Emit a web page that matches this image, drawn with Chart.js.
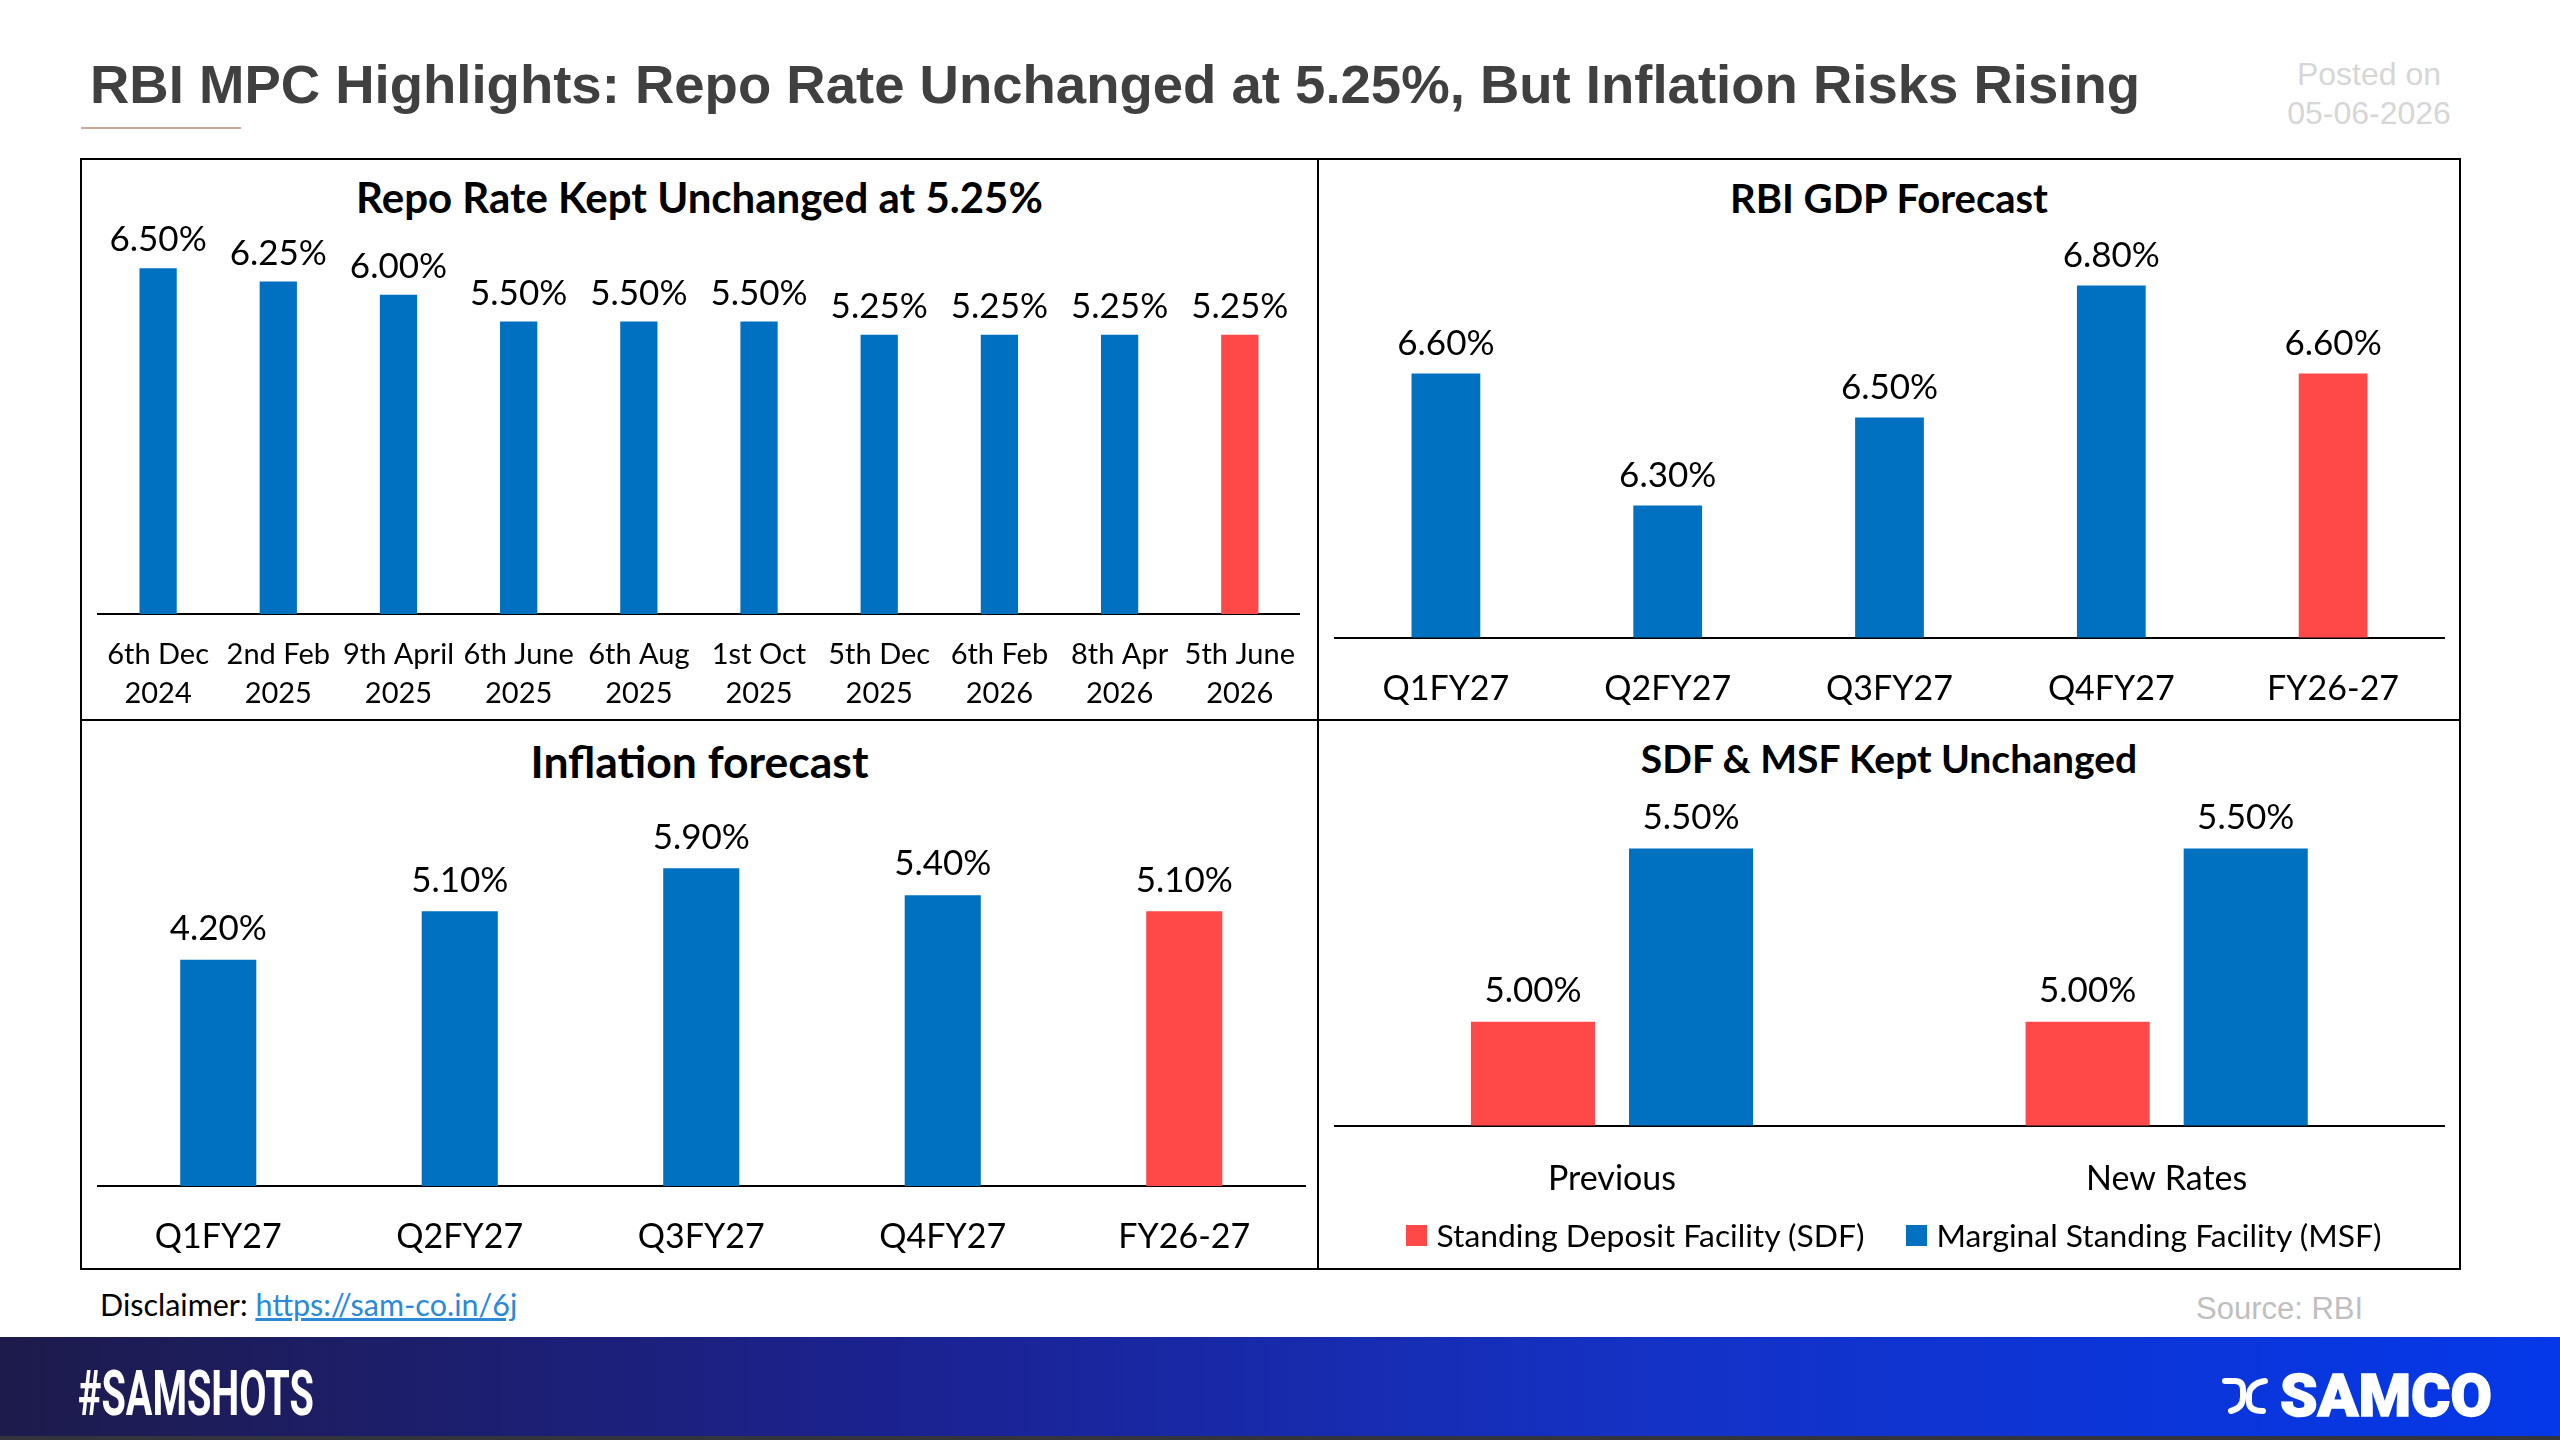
<!DOCTYPE html>
<html>
<head>
<meta charset="utf-8">
<script src="https://cdn.jsdelivr.net/npm/chart.js@4.4.1/dist/chart.umd.min.js"></script>
<style>
  html, body { margin:0; padding:0; background:#fff; }
  body { width:2560px; height:1440px; position:relative; overflow:hidden; font-family: Lato, sans-serif; }
  .abs { position:absolute; }
  #titulo { left:90px; top:58.4px; font-weight:bold; font-size:54.5px; line-height:54.5px; font-family:"Liberation Sans", Arial, sans-serif; color:#404040; white-space:nowrap; }
  #acento { left:81px; top:127px; width:160px; height:2px; background:#c9a99a; }
  #posted { left:2269px; top:55px; width:200px; text-align:center; font-size:32px; line-height:39px; font-family:"Liberation Sans", Arial, sans-serif; color:#d6d6d6; }
  #marco { left:80px; top:158px; width:2377px; height:1108px; border:2px solid #000; }
  #lineaV { left:1317px; top:158px; width:2px; height:1112px; background:#000; }
  #lineaH { left:80px; top:719px; width:2381px; height:2px; background:#000; }
  canvas { position:absolute; }
  .subtitulo { position:absolute; text-align:center; font-weight:bold; color:#000; white-space:nowrap; }
  #leyendaFacilidad { position:absolute; left:1329px; width:1130px; top:1215px; height:40px; display:flex; justify-content:center; align-items:center; gap:42px; font-size:31.8px; color:#000; white-space:nowrap; }
  .item-leyenda { display:flex; align-items:center; }
  .caja { display:inline-block; width:21px; height:21px; margin-right:9px; }
  #disclaimer { left:100px; top:1289px; font-size:30.5px; line-height:30.5px; color:#000; white-space:nowrap; }
  #disclaimer a { color:#2b8ad8; text-decoration:underline; }
  #fuente { left:2196px; top:1293px; font-size:31px; line-height:31px; font-family:"Liberation Sans", Arial, sans-serif; color:#bfbfbf; white-space:nowrap; }
  #banda { left:0; top:1337px; width:2560px; height:99px; background:linear-gradient(90deg, #1d1b4b 0%, #1b2290 35%, #1432c6 65%, #0438e8 100%); }
  #bandaBorde { left:0; top:1436px; width:2560px; height:4px; background:#34343c; }
  #samshots { left:78px; top:1362px; font-family:Roboto, sans-serif; font-weight:bold; font-size:63px; line-height:63px; color:#fff; transform:scaleX(0.628); transform-origin:left top; white-space:nowrap; }
  #samco { left:2280px; top:1366px; font-family:Roboto, sans-serif; font-weight:900; font-size:60px; line-height:60px; color:#fff; white-space:nowrap; -webkit-text-stroke:1.5px #fff; }
  #icono { left:2222px; top:1375px; }
</style>
</head>
<body>
<div id="titulo" class="abs">RBI MPC Highlights: Repo Rate Unchanged at 5.25%, But Inflation Risks Rising</div>
<div id="acento" class="abs"></div>
<div id="posted" class="abs">Posted on<br>05-06-2026</div>

<div id="marco" class="abs"></div>
<div id="lineaV" class="abs"></div>
<div id="lineaH" class="abs"></div>

<div class="subtitulo" style="left:82px; top:176px; width:1235px; font-size:42px; line-height:42px;">Repo Rate Kept Unchanged at 5.25%</div>
<div class="subtitulo" style="left:1319px; top:178px; width:1140px; font-size:40px; line-height:40px;">RBI GDP Forecast</div>
<div class="subtitulo" style="left:82px; top:738.5px; width:1235px; font-size:44.5px; line-height:44.5px;">Inflation forecast</div>
<div class="subtitulo" style="left:1319px; top:739px; width:1140px; font-size:39px; line-height:39px;">SDF &amp; MSF Kept Unchanged</div>

<canvas id="graficaRepo" width="1235" height="559" style="left:82px; top:160px;"></canvas>
<canvas id="graficaPib" width="1140" height="559" style="left:1319px; top:160px;"></canvas>
<canvas id="graficaInflacion" width="1235" height="547" style="left:82px; top:721px;"></canvas>
<canvas id="graficaFacilidad" width="1140" height="547" style="left:1319px; top:721px;"></canvas>
<div id="leyendaFacilidad"></div>

<div id="disclaimer" class="abs">Disclaimer: <a href="#">https://sam-co.in/6j</a></div>
<div id="fuente" class="abs">Source: RBI</div>

<div id="banda" class="abs"></div>
<div id="bandaBorde" class="abs"></div>
<div id="samshots" class="abs">#SAMSHOTS</div>
<svg id="icono" class="abs" width="46" height="42" viewBox="0 0 46 42">
  <path d="M3 6 H13 Q21 6 21 15 V22 Q21 33 9 36" fill="none" stroke="#fff" stroke-width="6" stroke-linecap="round"/>
  <path d="M43 6 Q29 8 27 19 V27 Q27 36 41 36" fill="none" stroke="#fff" stroke-width="6" stroke-linecap="round"/>
</svg>
<div id="samco" class="abs">SAMCO</div>

<script>
// Datos de las cuatro gráficas
const fechasRepo = [['6th Dec', '2024'], ['2nd Feb', '2025'], ['9th April', '2025'], ['6th June', '2025'], ['6th Aug', '2025'],
                    ['1st Oct', '2025'], ['5th Dec', '2025'], ['6th Feb', '2026'], ['8th Apr', '2026'], ['5th June', '2026']];
const tasaRepo = [6.50, 6.25, 6.00, 5.50, 5.50, 5.50, 5.25, 5.25, 5.25, 5.25];

const trimestres = ['Q1FY27', 'Q2FY27', 'Q3FY27', 'Q4FY27', 'FY26-27'];
const pibPronostico = [6.60, 6.30, 6.50, 6.80, 6.60];
const inflacionPronostico = [4.20, 5.10, 5.90, 5.40, 5.10];

const periodosFacilidad = ['Previous', 'New Rates'];
const tasaSDF = [5.00, 5.00];
const tasaMSF = [5.50, 5.50];

const AZUL = '#0070c0';
const ROJO = '#ff4848';

Chart.defaults.font.family = 'Lato, sans-serif';
Chart.defaults.color = '#000';

// la última barra va en rojo
function coloresBarras(valores) {
  return valores.map((v, i) => i === valores.length - 1 ? ROJO : AZUL);
}

// etiquetas de valor encima de cada barra (sin plugin externo)
const etiquetasBarras = {
  id: 'etiquetasBarras',
  defaults: { desfase: 28 },
  afterDatasetsDraw(chart, args, opts) {
    const ctx = chart.ctx;
    ctx.save();
    ctx.font = '35px Lato, sans-serif';
    ctx.fillStyle = '#000';
    ctx.textAlign = 'center';
    ctx.textBaseline = 'middle';
    chart.data.datasets.forEach((ds, i) => {
      chart.getDatasetMeta(i).data.forEach((barra, j) => {
        ctx.fillText(ds.data[j].toFixed(2) + '%', barra.x, barra.y - opts.desfase);
      });
    });
    ctx.restore();
  }
};

function opcionesBase(cfg) {
  return {
    responsive: false,
    animation: false,
    layout: { padding: cfg.padding },
    plugins: {
      legend: { display: false },
      tooltip: { enabled: false },
      etiquetasBarras: { desfase: cfg.desfase }
    },
    scales: {
      x: {
        grid: { display: false, drawTicks: false },
        border: { display: true, color: '#000', width: 2 },
        ticks: { padding: cfg.padTicks, font: { size: cfg.tamTicks, lineHeight: cfg.altoLinea || 1.2 }, color: '#000', autoSkip: false, maxRotation: 0 },
        afterFit: (scale) => { scale.height = cfg.altoEje; }
      },
      y: { display: false, min: cfg.min, max: cfg.max }
    }
  };
}

// Repo
new Chart(document.getElementById('graficaRepo'), {
  type: 'bar',
  data: {
    labels: fechasRepo,
    datasets: [{ data: tasaRepo, backgroundColor: coloresBarras(tasaRepo), categoryPercentage: 1, barPercentage: 0.31 }]
  },
  options: opcionesBase({ padding: { left: 16, right: 11, top: 81.6, bottom: 5 }, altoEje: 100, padTicks: 21.5, tamTicks: 29, altoLinea: '39px', min: 0, max: 7, desfase: 28 }),
  plugins: [etiquetasBarras]
});

// PIB
new Chart(document.getElementById('graficaPib'), {
  type: 'bar',
  data: {
    labels: trimestres,
    datasets: [{ data: pibPronostico, backgroundColor: coloresBarras(pibPronostico), categoryPercentage: 1, barPercentage: 0.31 }]
  },
  options: opcionesBase({ padding: { left: 16, right: 15, top: 37.6, bottom: 1.5 }, altoEje: 80, padTicks: 31, tamTicks: 34, min: 6, max: 7, desfase: 30 }),
  plugins: [etiquetasBarras]
});

// Inflación
new Chart(document.getElementById('graficaInflacion'), {
  type: 'bar',
  data: {
    labels: trimestres,
    datasets: [{ data: inflacionPronostico, backgroundColor: coloresBarras(inflacionPronostico), categoryPercentage: 1, barPercentage: 0.315 }]
  },
  options: opcionesBase({ padding: { left: 15.5, right: 12, top: 88, bottom: 4 }, altoEje: 78, padTicks: 30.6, tamTicks: 34, min: 0, max: 7, desfase: 31 }),
  plugins: [etiquetasBarras]
});

// SDF y MSF
const graficaFacilidad = new Chart(document.getElementById('graficaFacilidad'), {
  type: 'bar',
  data: {
    labels: periodosFacilidad,
    datasets: [
      { label: 'Standing Deposit Facility (SDF)', data: tasaSDF, backgroundColor: ROJO, categoryPercentage: 0.57, barPercentage: 0.785 },
      { label: 'Marginal Standing Facility (MSF)', data: tasaMSF, backgroundColor: AZUL, categoryPercentage: 0.57, barPercentage: 0.785 }
    ]
  },
  options: opcionesBase({ padding: { left: 15.7, right: 15, top: 93, bottom: 62.5 }, altoEje: 80, padTicks: 33, tamTicks: 34, min: 4.7, max: 5.6, desfase: 31 }),
  plugins: [etiquetasBarras]
});

// leyenda en HTML a partir de los datasets
function armarLeyenda(chart, idContenedor) {
  const cont = document.getElementById(idContenedor);
  chart.data.datasets.forEach(ds => {
    const item = document.createElement('span');
    item.className = 'item-leyenda';
    const caja = document.createElement('span');
    caja.className = 'caja';
    caja.style.background = ds.backgroundColor;
    item.appendChild(caja);
    item.appendChild(document.createTextNode(ds.label));
    cont.appendChild(item);
  });
}
armarLeyenda(graficaFacilidad, 'leyendaFacilidad');
</script>
</body>
</html>
